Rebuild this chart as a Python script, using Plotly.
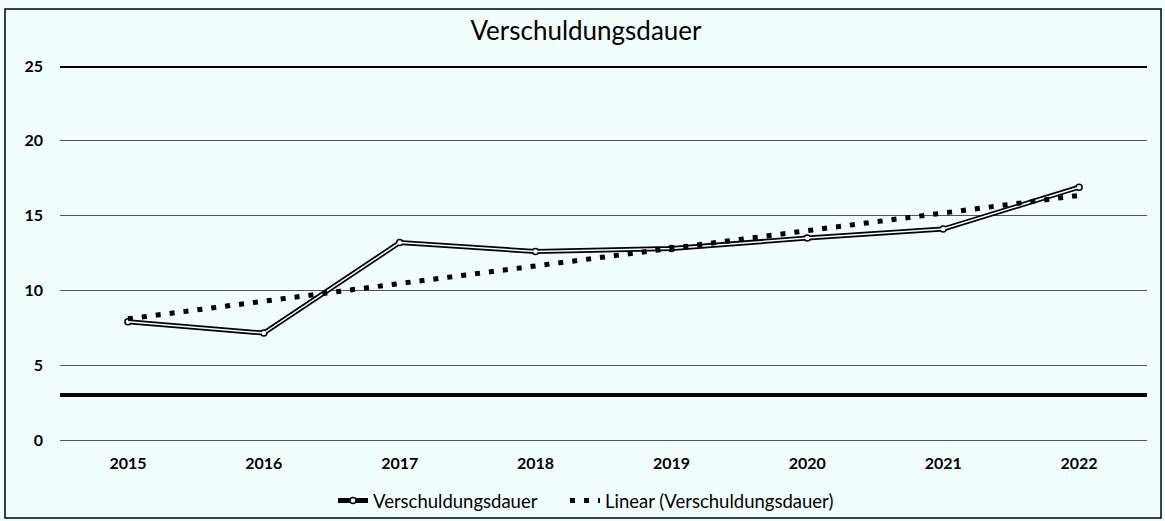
import plotly.graph_objects as go

years = ["2015", "2016", "2017", "2018", "2019", "2020", "2021", "2022"]
verschuldungsdauer = [7.9, 7.15, 13.2, 12.6, 12.8, 13.5, 14.1, 16.9]
trend_years = ["2015", "2022"]
trend_values = [8.1, 16.35]
ref_lines = [25, 3]
y_ticks = [0, 5, 10, 15, 20, 25]

BG = "#F0FEFE"
FONT = "Lato, Carlito, Calibri, sans-serif"

fig = go.Figure()

# main series: double line (black outline, light core)
fig.add_trace(go.Scatter(
    x=years, y=verschuldungsdauer, mode="lines+markers",
    name="Verschuldungsdauer",
    line=dict(color="black", width=5),
    marker=dict(symbol="circle", size=6, color=BG, line=dict(color="black", width=1.5)),
    legend="legend", legendgroup="v", showlegend=True,
))
fig.add_trace(go.Scatter(
    x=years, y=verschuldungsdauer, mode="lines",
    line=dict(color=BG, width=1.5),
    legendgroup="v", showlegend=False, hoverinfo="skip",
))
# linear trend
fig.add_trace(go.Scatter(
    x=trend_years, y=trend_values, mode="lines",
    name="Linear (Verschuldungsdauer)",
    line=dict(color="black", width=5, dash="5px,9px"),
    legend="legend2",
))

for v in ref_lines:
    fig.add_shape(type="line", xref="paper", yref="y", x0=0, x1=1, y0=v, y1=v,
                  line=dict(color="black", width=4), layer="above")

# outer frame
fig.add_shape(type="rect", xref="paper", yref="paper",
              x0=-0.0506, x1=1.0129, y0=-0.2086, y1=1.1524,
              line=dict(color="black", width=1.5), fillcolor="rgba(0,0,0,0)")

legend_common = dict(orientation="h", xref="container", xanchor="left",
                     yref="container", y=1 - 501 / 521, yanchor="middle",
                     font=dict(size=18.5, family=FONT, color="black"),
                     bgcolor="rgba(0,0,0,0)")

fig.update_layout(
    width=1165, height=521,
    margin=dict(l=60, r=18, t=66, b=81, autoexpand=False),
    paper_bgcolor=BG, plot_bgcolor=BG,
    font=dict(family=FONT, color="black"),
    title=dict(text="Verschuldungsdauer", xref="container", x=0.503, xanchor="center",
               y=1 - 31 / 521, yanchor="middle",
               font=dict(size=26, family=FONT, color="black")),
    legend=dict(x=333 / 1165, **legend_common),
    legend2=dict(x=565 / 1165, **legend_common),
    xaxis=dict(type="category", range=[-0.5, 7.5], showgrid=False, zeroline=False,
               showline=False, ticks="", ticklabelstandoff=12,
               tickfont=dict(size=16, family=FONT, color="black", weight="bold")),
    yaxis=dict(range=[0, 25], tickvals=y_ticks, showgrid=True,
               gridcolor="#555555", gridwidth=1,
               zeroline=True, zerolinecolor="#555555", zerolinewidth=1,
               showline=False, ticks="", ticklabelstandoff=16,
               tickfont=dict(size=16, family=FONT, color="black", weight="bold")),
)

fig.write_html("out.html", config={"displayModeBar": False},
               post_script="document.body.style.margin='0';")
